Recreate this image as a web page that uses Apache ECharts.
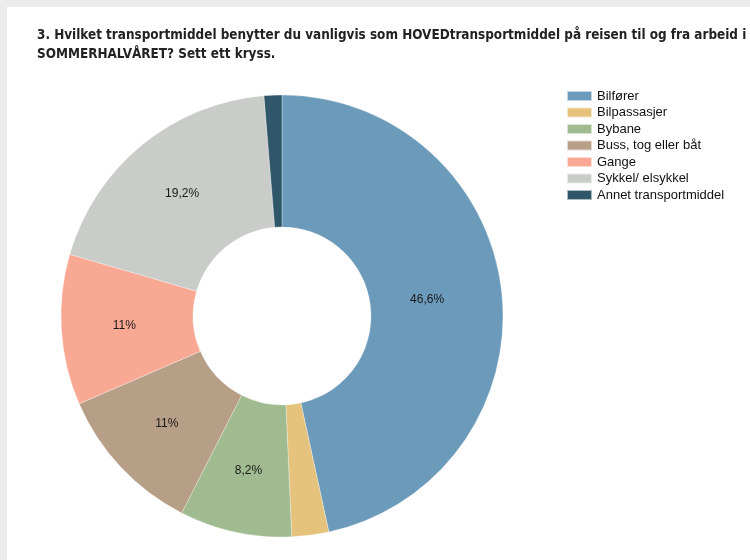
<!DOCTYPE html>
<html>
<head>
<meta charset="utf-8">
<script src="https://cdn.jsdelivr.net/npm/echarts@6/dist/echarts.min.js"></script>
<style>
  html, body { margin: 0; padding: 0; background: #ececec; }
  #chart { width: 750px; height: 560px; }
</style>
</head>
<body>
<div id="chart"></div>
<script>
// data (percent)
var categories = ['Bilfører', 'Bilpassasjer', 'Bybane', 'Buss, tog eller båt', 'Gange', 'Sykkel/ elsykkel', 'Annet transportmiddel'];
var shares = [46.6, 2.7, 8.2, 11, 11, 19.2, 1.3];
var colors = ['#6c9aba', '#e5c37c', '#a0bb90', '#b79e87', '#f8a893', '#c9ccc8', '#30566a'];
var titleLines = [
  '3. Hvilket transportmiddel benytter du vanligvis som HOVEDtransportmiddel på reisen til og fra arbeid i',
  'SOMMERHALVÅRET? Sett ett kryss.'
];

var chart = echarts.init(document.getElementById('chart'));

var pieData = categories.map(function (c, i) { return { name: c, value: shares[i] }; });
// the big slice's label sits a bit further in on the original
pieData[0].label = { offset: [-12, 1] };

var option = {
  backgroundColor: '#ececec',
  color: colors,
  graphic: [
    { type: 'rect', left: 7, top: 7, shape: { width: 743, height: 553 }, style: { fill: '#ffffff' }, z: -10 }
  ],
  title: {
    text: titleLines.join('\n'),
    left: 32,
    top: 21,
    textStyle: {
      fontFamily: '"DejaVu Sans Condensed", Arial, sans-serif',
      fontSize: 13.4,
      fontWeight: 'bold',
      color: '#222',
      lineHeight: 19
    }
  },
  legend: {
    orient: 'vertical',
    left: 561,
    top: 84,
    itemWidth: 25,
    itemHeight: 10,
    itemGap: 2.5,
    icon: 'rect',
    data: categories,
    textStyle: {
      fontFamily: 'Liberation Sans, Arial, sans-serif',
      fontSize: 13,
      color: '#111',
      lineHeight: 14,
      padding: [0, 0, 0, 0]
    }
  },
  series: [
    {
      type: 'pie',
      center: [282, 316],
      radius: [89, 221],
      startAngle: 90,
      clockwise: true,
      avoidLabelOverlap: false,
      animation: false,
      itemStyle: { borderColor: 'rgba(255,255,255,0.6)', borderWidth: 0.5 },
      label: {
        show: true,
        position: 'inside',
        color: '#1a1a1a',
        fontFamily: 'Liberation Sans, Arial, sans-serif',
        fontSize: 12,
        formatter: function (p) {
          if (p.value < 5) return '';
          return String(p.value).replace('.', ',') + '%';
        }
      },
      labelLine: { show: false },
      emphasis: { disabled: true },
      data: pieData
    }
  ]
};

chart.setOption(option);
</script>
</body>
</html>
